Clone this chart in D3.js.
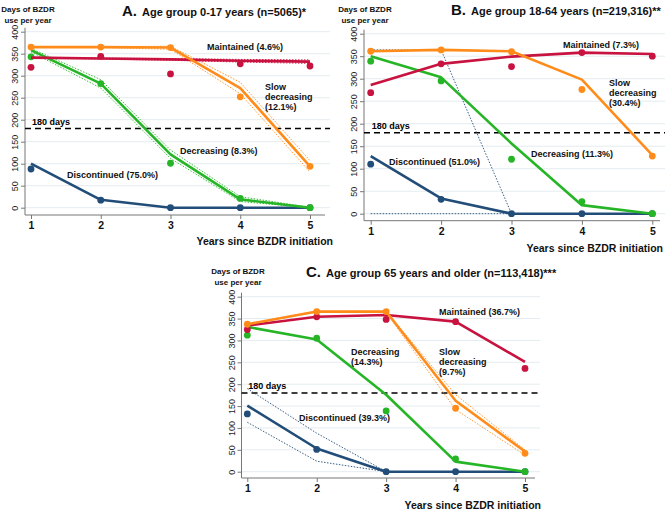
<!DOCTYPE html>
<html><head><meta charset="utf-8">
<script src="https://cdn.jsdelivr.net/npm/d3@7"></script>
<style>
body{margin:0;background:#fff;}
svg{display:block;font-family:"Liberation Sans",Arial,sans-serif;}
</style></head>
<body>
<svg id="chart" width="669" height="513"></svg>
<script>
const years = [1, 2, 3, 4, 5];
const yTicks = [0, 50, 100, 150, 200, 250, 300, 350, 400];
const threshold = 180;

// Panel A: 0-17 years
const aMaintainedFit = [341, 339, 337, 334, 332];
const aMaintainedObs = [319, 344, 304, 327, 322];
const aMaintainedHi = [342, 340, 339, 337, 336];
const aMaintainedLo = [340, 338, 335, 331, 328];
const aSlowFit = [365, 365, 364, 272, 94];
const aSlowObs = [365, 365, 364, 252, 94];
const aSlowHi = [365, 366, 367, 285, 107];
const aSlowLo = [364, 364, 360, 259, 81];
const aDecreasingFit = [358, 282, 121, 19, 0];
const aDecreasingObs = [343, 282, 101, 21, 0];
const aDecreasingHi = [362, 291, 131, 25, 1];
const aDecreasingLo = [354, 272, 112, 14, 0];
const aDiscontinuedFit = [100, 18, 0, 0, 0];
const aDiscontinuedObs = [88, 17, 0, 0, 0];

// Panel B: 18-64 years
const bMaintainedFit = [286, 333, 349, 358, 355];
const bMaintainedObs = [269, 333, 327, 358, 350];
const bSlowFit = [361, 364, 361, 298, 130];
const bSlowObs = [361, 364, 360, 276, 128];
const bDecreasingFit = [350, 303, 156, 19, 0];
const bDecreasingObs = [339, 295, 121, 27, 0];
const bDiscontinuedFit = [128, 34, 0, 0, 0];
const bDiscontinuedObs = [110, 32, 0, 0, 0];
const bDiscontinuedHi = [364, 364, 0, 0, 0];
const bDiscontinuedLo = [0, 0, 0, 0, 0];

// Panel C: 65 years and older
const cMaintainedFit = [334, 354, 358, 343, 251];
const cMaintainedObs = [325, 354, 348, 343, 236];
const cSlowFit = [337, 366, 366, 162, 46];
const cSlowObs = [337, 366, 366, 145, 42];
const cSlowHi = [338, 367, 367, 176, 50];
const cSlowLo = [336, 365, 364, 142, 38];
const cDecreasingFit = [331, 302, 176, 23, 0];
const cDecreasingObs = [312, 305, 139, 29, 0];
const cDiscontinuedFit = [151, 53, 0, 0, 0];
const cDiscontinuedObs = [132, 51, 0, 0, 0];
const cDiscontinuedHi = [190, 88, 0, 0, 0];
const cDiscontinuedLo = [113, 24, 0, 0, 0];

const colors = {disc: "#214d78", dec: "#26b526", maint: "#c8123f", slow: "#ff8c1a"};

const panels = [
  {letter: "A.", title: "Age group 0-17 years (n=5065)*",
   x0: 31, x1: 310, y0: 207.7, y1: 31.7, axisX: 25, axisY: 215, right: 330,
   titleX: 122, titleY: 16, yTitleX: 28, yTitleY: 12, xTitleX: 333, xTitleY: 245,
   series: [
     {c: "disc", fit: aDiscontinuedFit, obs: aDiscontinuedObs},
     {c: "dec", fit: aDecreasingFit, obs: aDecreasingObs, hi: aDecreasingHi, lo: aDecreasingLo},
     {c: "maint", fit: aMaintainedFit, obs: aMaintainedObs, hi: aMaintainedHi, lo: aMaintainedLo},
     {c: "slow", fit: aSlowFit, obs: aSlowObs, hi: aSlowHi, lo: aSlowLo}],
   labels: [
     {t: ["Maintained (4.6%)"], x: 207, y: 50},
     {t: ["Slow", "decreasing", "(12.1%)"], x: 265, y: 90},
     {t: ["Decreasing (8.3%)"], x: 180, y: 154},
     {t: ["Discontinued (75.0%)"], x: 67, y: 178}]},
  {letter: "B.", title: "Age group 18-64 years (n=219,316)**",
   x0: 370.7, x1: 652.3, y0: 213.7, y1: 33.7, axisX: 364, axisY: 220.7, right: 665,
   titleX: 451, titleY: 15, yTitleX: 365, yTitleY: 12, xTitleX: 663, xTitleY: 251.5,
   series: [
     {c: "disc", fit: bDiscontinuedFit, obs: bDiscontinuedObs, hi: bDiscontinuedHi, lo: bDiscontinuedLo},
     {c: "dec", fit: bDecreasingFit, obs: bDecreasingObs},
     {c: "maint", fit: bMaintainedFit, obs: bMaintainedObs},
     {c: "slow", fit: bSlowFit, obs: bSlowObs}],
   labels: [
     {t: ["Maintained (7.3%)"], x: 563, y: 48},
     {t: ["Slow", "decreasing", "(30.4%)"], x: 609, y: 86},
     {t: ["Decreasing (11.3%)"], x: 531, y: 157},
     {t: ["Discontinued (51.0%)"], x: 389, y: 165}]},
  {letter: "C.", title: "Age group 65 years and older (n=113,418)***",
   x0: 247.3, x1: 525, y0: 471.7, y1: 296.7, axisX: 241.5, axisY: 478, right: 540,
   titleX: 306, titleY: 277, yTitleX: 238, yTitleY: 274, xTitleX: 541, xTitleY: 509,
   series: [
     {c: "disc", fit: cDiscontinuedFit, obs: cDiscontinuedObs, hi: cDiscontinuedHi, lo: cDiscontinuedLo},
     {c: "dec", fit: cDecreasingFit, obs: cDecreasingObs},
     {c: "maint", fit: cMaintainedFit, obs: cMaintainedObs},
     {c: "slow", fit: cSlowFit, obs: cSlowObs, hi: cSlowHi, lo: cSlowLo}],
   labels: [
     {t: ["Maintained (36.7%)"], x: 439, y: 315},
     {t: ["Decreasing", "(14.3%)"], x: 351, y: 355},
     {t: ["Slow", "decreasing", "(9.7%)"], x: 439, y: 355},
     {t: ["Discontinued (39.3%)"], x: 299, y: 421}]}
];

const svg = d3.select("#chart");

panels.forEach(p => {
  const x = d3.scaleLinear().domain([1, 5]).range([p.x0, p.x1]);
  const y = d3.scaleLinear().domain([0, 400]).range([p.y0, p.y1]);
  const g = svg.append("g");

  // gridlines
  g.selectAll(".grid").data(yTicks).join("line")
    .attr("x1", p.axisX).attr("x2", p.right)
    .attr("y1", d => y(d)).attr("y2", d => y(d))
    .attr("stroke", "#e4ecf0").attr("stroke-width", 1);

  // y axis
  const ya = g.append("g").attr("transform", `translate(${p.axisX},0)`)
    .call(d3.axisLeft(y).tickValues(yTicks).tickSize(4).tickSizeOuter(0));
  ya.select(".domain").attr("stroke", "#777").attr("d", `M0,${p.y1 - 4}V${p.axisY}`);
  ya.selectAll(".tick line").attr("stroke", "#777");
  ya.selectAll(".tick text")
    .attr("x", 0).attr("dy", 0)
    .attr("transform", "translate(-7,0) rotate(-90)")
    .attr("text-anchor", "middle")
    .attr("font-size", 9).attr("fill", "#222");

  // x axis
  const xa = g.append("g").attr("transform", `translate(0,${p.axisY})`)
    .call(d3.axisBottom(x).tickValues(years).tickFormat(d3.format("d")).tickSize(4).tickSizeOuter(0));
  xa.select(".domain").attr("stroke", "#777").attr("d", `M${p.axisX},0H${p.right - 5}`);
  xa.selectAll(".tick line").attr("stroke", "#777");
  xa.selectAll(".tick text").attr("font-size", 10.5).attr("font-weight", "bold").attr("fill", "#111");

  // threshold line
  g.append("line").attr("x1", p.axisX).attr("x2", p.right)
    .attr("y1", y(threshold)).attr("y2", y(threshold))
    .attr("stroke", "#000").attr("stroke-width", 1.6).attr("stroke-dasharray", "6,4");
  g.append("text").attr("x", x(1) + 1).attr("y", y(threshold) - 4)
    .attr("font-size", 9).attr("font-weight", "bold").text("180 days");

  const line = d3.line().x((d, i) => x(years[i])).y(d => y(d));

  p.series.forEach(s => {
    const col = colors[s.c];
    if (s.hi) {
      [s.hi, s.lo].forEach(arr => {
        g.append("path").attr("d", line(arr)).attr("fill", "none")
          .attr("stroke", col).attr("stroke-width", 0.9).attr("stroke-dasharray", "1.5,1.5");
      });
    }
  });
  p.series.forEach(s => {
    const col = colors[s.c];
    g.append("path").attr("d", line(s.fit)).attr("fill", "none")
      .attr("stroke", col).attr("stroke-width", 2.6).attr("stroke-linejoin", "round");
    g.selectAll(null).data(s.obs).join("circle")
      .attr("cx", (d, i) => x(years[i])).attr("cy", d => y(d)).attr("r", 3.4)
      .attr("fill", col);
  });

  // series labels
  p.labels.forEach(l => {
    const t = g.append("text").attr("x", l.x).attr("y", l.y)
      .attr("font-size", 9).attr("font-weight", "bold").attr("fill", "#111");
    l.t.forEach((s, i) => t.append("tspan").attr("x", l.x).attr("dy", i ? 10 : 0).text(s));
  });

  // titles
  const tt = g.append("text").attr("x", p.titleX).attr("y", p.titleY).attr("font-weight", "bold").attr("fill", "#111");
  tt.append("tspan").attr("font-size", 15).text(p.letter);
  tt.append("tspan").attr("font-size", 11).attr("dx", 5).text(p.title);

  const yt = g.append("text").attr("x", p.yTitleX).attr("y", p.yTitleY)
    .attr("text-anchor", "middle").attr("font-size", 8).attr("font-weight", "bold").attr("fill", "#111");
  yt.append("tspan").attr("x", p.yTitleX).text("Days of BZDR");
  yt.append("tspan").attr("x", p.yTitleX).attr("dy", 11).text("use per year");

  g.append("text").attr("x", p.xTitleX).attr("y", p.xTitleY).attr("text-anchor", "end")
    .attr("font-size", 10.5).attr("font-weight", "bold").attr("fill", "#111").text("Years since BZDR initiation");
});
</script>
</body></html>
